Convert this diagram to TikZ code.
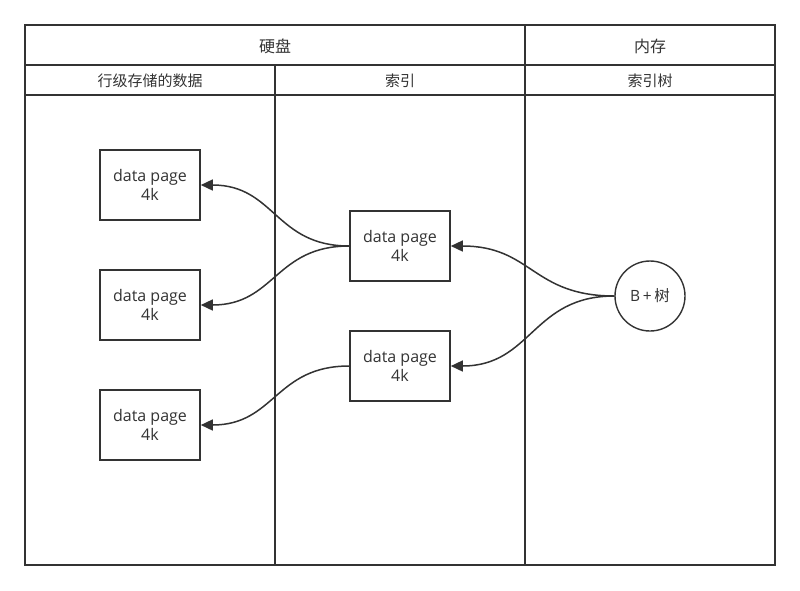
\documentclass[tikz,border=0pt]{standalone}
\usepackage{fontspec}
\setmainfont{Open Sans}
\newfontfamily\cjk{Noto Sans CJK SC}
\usetikzlibrary{arrows.meta}
\definecolor{ink}{HTML}{333333}
\tikzset{
  frame/.style={draw=ink, line width=1.6pt},
  page/.style={draw=ink, line width=1.6pt, minimum width=100pt, minimum height=70pt,
    inner sep=0pt, align=center, text=ink, font=\fontsize{16}{19.5}\selectfont},
  tree/.style={circle, draw=ink, line width=1.4pt, minimum size=70pt, inner sep=0pt,
    text=ink, font=\fontsize{15.5}{17}\selectfont},
  head/.style={text=ink, font=\cjk\fontsize{16}{18}\selectfont, inner sep=0pt},
  sub/.style={text=ink, font=\cjk\fontsize{15}{16}\selectfont, inner sep=0pt},
  link/.style={draw=ink, line width=1.5pt, -{Triangle[length=12pt, width=11pt]}},
}
\begin{document}
\begin{tikzpicture}[x=1pt, y=-1pt]
\useasboundingbox (0,0) rectangle (800,590);
% swimlane table
\draw[frame] (25,25) rectangle (775,565);
\draw[frame] (25,65) -- (775,65);
\draw[frame] (25,95) -- (775,95);
\draw[frame] (525,25) -- (525,565);
\draw[frame] (275,65) -- (275,565);
% headings
\node[head] (disk) at (275,46) {硬盘};
\node[head] (mem) at (650,46) {内存};
\node[sub] (rows) at (150,81) {行级存储的数据};
\node[sub] (idx) at (400,81) {索引};
\node[sub] (idxtree) at (650,81) {索引树};
% data pages
\node[page] (d1) at (150,185) {data page\\4k};
\node[page] (d2) at (150,305) {data page\\4k};
\node[page] (d3) at (150,425) {data page\\4k};
% index pages
\node[page] (i1) at (400,246) {data page\\4k};
\node[page] (i2) at (400,366) {data page\\4k};
% in-memory tree
\node[tree] (bt) at (650,296) {B\,+\,{\cjk 树}};
% connectors
\draw[link] (i1.west) .. controls (275,246) and (275,185) .. (d1.east);
\draw[link] (i1.west) .. controls (275,246) and (275,305) .. (d2.east);
\draw[link] (i2.west) .. controls (275,366) and (275,425) .. (d3.east);
\draw[link] (bt.west) .. controls (532,296) and (532,246) .. (i1.east);
\draw[link] (bt.west) .. controls (532,296) and (532,366) .. (i2.east);
\end{tikzpicture}
\end{document}
